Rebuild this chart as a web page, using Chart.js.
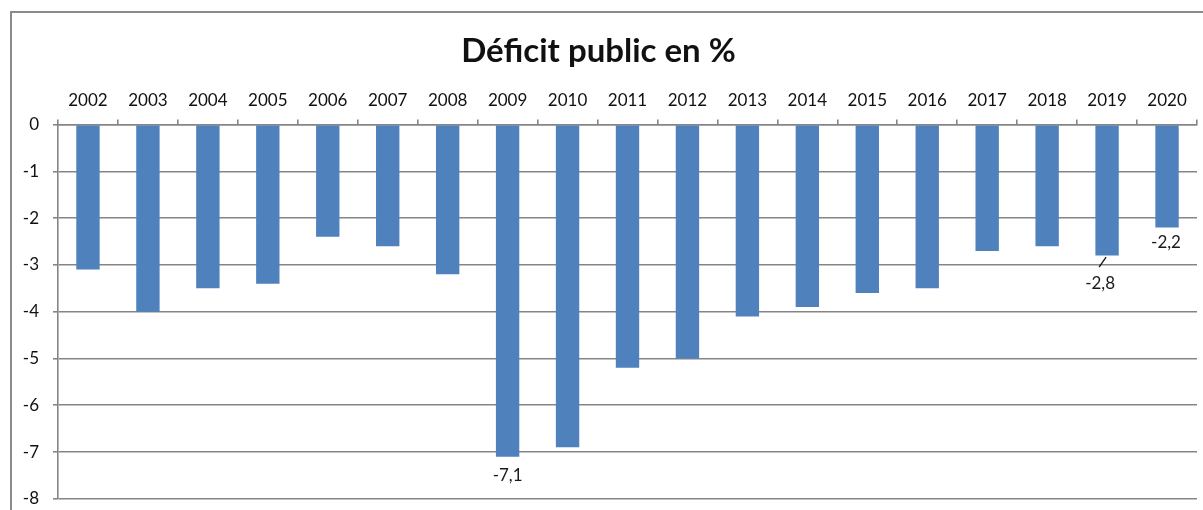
<!DOCTYPE html>
<html>
<head>
<meta charset="utf-8">
<script src="https://cdn.jsdelivr.net/npm/chart.js@4.4.1/dist/chart.umd.min.js"></script>
<style>
  html, body { margin: 0; padding: 0; background: #fff; overflow: hidden; }
  #wrap { position: relative; width: 1203px; height: 510px; overflow: hidden; }
  #frame {
    position: absolute; left: 10px; top: 11px; width: 1300px; height: 600px;
    border-left: 2px solid #8a8a8a; border-top: 2px solid #8a8a8a;
  }
  canvas { position: absolute; left: 0; top: 0; }
</style>
</head>
<body>
<div id="wrap">
  <div id="frame"></div>
  <canvas id="chart" width="1203" height="523"></canvas>
</div>
<script>
/* =====================
   DATA
===================== */
const years = ["2002", "2003", "2004", "2005", "2006", "2007", "2008", "2009", "2010", "2011",
  "2012", "2013", "2014", "2015", "2016", "2017", "2018", "2019", "2020"];
const deficit = [-3.1, -4.0, -3.5, -3.4, -2.4, -2.6, -3.2, -7.1, -6.9, -5.2,
  -5.0, -4.1, -3.9, -3.6, -3.5, -2.7, -2.6, -2.8, -2.2];
const yTicks = [0, -1, -2, -3, -4, -5, -6, -7, -8];
const labelledYears = ["2009", "2019", "2020"];

const GRID = "#858585";
const FONT = "Lato, 'Open Sans', sans-serif";

/* =====================
   VALUE LABELS
===================== */
const labelStyle = {
  "2009": { dx: 0, dy: 19 },
  "2019": { dx: -7, dy: 28, leader: true },
  "2020": { dx: -1, dy: 15 }
};

const valueLabels = {
  id: "valueLabels",
  afterDatasetsDraw(chart) {
    const ctx = chart.ctx;
    const meta = chart.getDatasetMeta(0);
    const ys = chart.scales.y;
    ctx.save();
    ctx.font = "17px " + FONT;
    ctx.fillStyle = "#1a1a1a";
    ctx.textAlign = "center";
    ctx.textBaseline = "middle";
    labelledYears.forEach(yr => {
      const i = years.indexOf(yr);
      const s = labelStyle[yr];
      const bar = meta.data[i];
      const yEnd = ys.getPixelForValue(deficit[i]);
      const txt = deficit[i].toFixed(1).replace(".", ",");
      ctx.fillText(txt, bar.x + s.dx, yEnd + s.dy);
      if (s.leader) {
        ctx.strokeStyle = "#111";
        ctx.lineWidth = 1.3;
        ctx.beginPath();
        ctx.moveTo(bar.x - 1, yEnd + 1.5);
        ctx.lineTo(bar.x - 8, yEnd + 11.5);
        ctx.stroke();
      }
    });
    ctx.restore();
  }
};

/* =====================
   CHART
===================== */
new Chart(document.getElementById("chart"), {
  type: "bar",
  data: {
    labels: years,
    datasets: [{
      data: deficit,
      backgroundColor: "#4F81BD",
      borderWidth: 0,
      categoryPercentage: 1,
      barPercentage: 0.39
    }]
  },
  options: {
    responsive: false,
    animation: false,
    devicePixelRatio: 1,
    layout: { padding: { left: 0, right: 6, top: 0, bottom: 0 } },
    plugins: {
      legend: { display: false },
      tooltip: { enabled: false },
      title: {
        display: true,
        text: "Déficit public en %",
        color: "#111",
        font: { family: FONT, size: 33, weight: "bold", lineHeight: 1.2 },
        padding: { top: 32, bottom: 0 }
      }
    },
    scales: {
      x: {
        position: "top",
        grid: {
          offset: true,
          drawOnChartArea: false,
          drawTicks: true,
          tickLength: 5,
          color: GRID,
          lineWidth: 1.6
        },
        border: { display: true, color: GRID, width: 1.6 },
        ticks: {
          color: "#111",
          font: { family: FONT, size: 17 },
          padding: 9,
          maxRotation: 0,
          autoSkip: false
        },
        afterFit: s => { s.height = 53; }
      },
      y: {
        min: -8,
        max: 0,
        grid: { color: GRID, lineWidth: 1.6, tickLength: 5 },
        border: { display: true, color: GRID, width: 1.6 },
        afterBuildTicks: s => { s.ticks = yTicks.map(v => ({ value: v })); },
        ticks: {
          color: "#111",
          font: { family: FONT, size: 17 },
          padding: 14,
          callback: v => String(v)
        },
        afterFit: s => { s.width = 58; }
      }
    }
  },
  plugins: [valueLabels]
});
</script>
</body>
</html>
